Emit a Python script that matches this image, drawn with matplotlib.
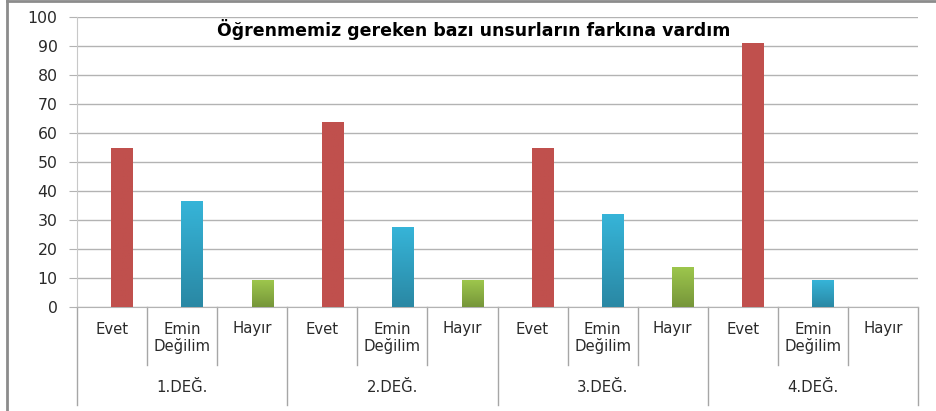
import matplotlib
matplotlib.use("Agg")
import matplotlib.pyplot as plt
import numpy as np
from matplotlib.colors import LinearSegmentedColormap

plt.rcParams['font.family'] = ['DejaVu Sans']

title = "Öğrenmemiz gereken bazı unsurların farkına vardım"
groups = ["1.DEĞ.", "2.DEĞ.", "3.DEĞ.", "4.DEĞ."]
answers = ["Evet", "Emin\nDeğilim", "Hayır"]
values = [54.55, 36.36, 9.09,
          63.64, 27.27, 9.09,
          54.55, 31.82, 13.64,
          90.91, 9.09, 0.0]
yticks = [0, 10, 20, 30, 40, 50, 60, 70, 80, 90, 100]

top_colors = ["#C0504D", "#36B4D8", "#9DC64C"]
bot_colors = ["#C0504D", "#2A88A4", "#76963A"]

W, H = 936, 411
fig = plt.figure(figsize=(W / 100, H / 100), dpi=100)
left, right, top, bottom = 77, 918, 17, 307
ax = fig.add_axes([left / W, 1 - bottom / H, (right - left) / W, (bottom - top) / H])

n = len(values)
ax.set_xlim(0, n)
ax.set_ylim(0, 100)
ax.set_yticks(yticks)
ax.set_xticks([])
ax.yaxis.grid(True, color="#B3B3B3", linewidth=1.0)
ax.set_axisbelow(True)
for s in ["top", "right"]:
    ax.spines[s].set_visible(False)
ax.spines["left"].set_color("#C8C8C8")
ax.spines["bottom"].set_color("#B3B3B3")
ax.tick_params(axis="y", length=6, color="#B3B3B3", labelsize=11.3, pad=8, labelcolor="#2A2A2A")

bw = 0.3
off = 0.14
for i, v in enumerate(values):
    k = i % 3
    x0 = i + 0.5 + off - bw / 2
    if v <= 0:
        continue
    cmap = LinearSegmentedColormap.from_list("g", [bot_colors[k], top_colors[k]])
    grad = np.linspace(0, 1, 64).reshape(-1, 1)
    ax.imshow(grad, cmap=cmap, origin="lower", aspect="auto",
              extent=[x0, x0 + bw, 0, v], zorder=3)
ax.set_xlim(0, n)
ax.set_ylim(0, 100)

trans = ax.get_xaxis_transform()
def ypix(p):
    return (bottom - p) / (bottom - top)

for i in range(n):
    k = i % 3
    lab = answers[k]
    if "\n" in lab:
        ax.text(i + 0.5, ypix(338), lab, transform=trans, ha="center", va="center",
                fontsize=10.7, color="#2A2A2A", linespacing=1.15, clip_on=False)
    else:
        ax.text(i + 0.5, ypix(329), lab, transform=trans, ha="center", va="center",
                fontsize=10.7, color="#2A2A2A", clip_on=False)
for i in range(n + 1):
    endp = 405 if i % 3 == 0 else 365
    ax.plot([i, i], [0, ypix(endp)], transform=trans, color="#A6A6A6",
            linewidth=1.0, clip_on=False)
for g, name in enumerate(groups):
    ax.text(g * 3 + 1.5, ypix(387), name, transform=trans, ha="center", va="center",
            fontsize=10.7, color="#2A2A2A", clip_on=False)

fig.text(474 / W, 1 - 30 / H, title, ha="center", va="center",
         fontsize=12.5, fontweight="bold", color="#000000")

fig.add_artist(plt.Line2D([7 / W, 7 / W], [0, 1 - 1 / H], color="#8C8C8C", linewidth=2))
fig.add_artist(plt.Line2D([7 / W, 1], [1 - 1.5 / H, 1 - 1.5 / H], color="#8C8C8C", linewidth=2))

fig.savefig("out.png", dpi=100)
